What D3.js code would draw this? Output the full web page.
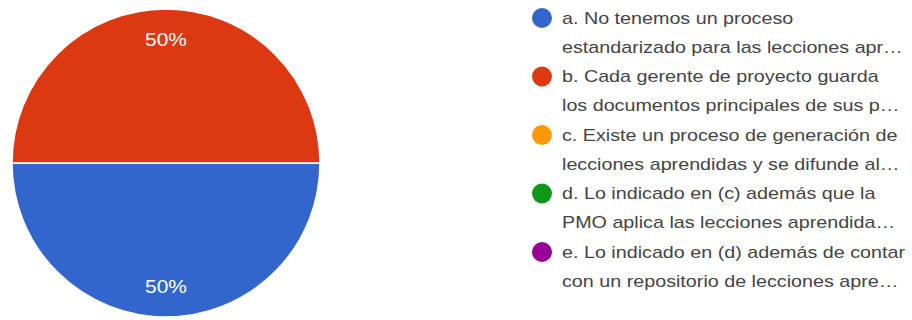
<!DOCTYPE html>
<html>
<head>
<meta charset="utf-8">
<script src="https://cdn.jsdelivr.net/npm/d3@7"></script>
<style>
  body { margin: 0; background: #fff; }
  svg { display: block; }
</style>
</head>
<body>
<div id="chart"></div>
<script>
// Chart data
const categories = ["a", "b", "c", "d", "e"];
const values = [1, 1, 0, 0, 0];
const legendLines = [
    ["a. No tenemos un proceso", "estandarizado para las lecciones apr\u2026"],
    ["b. Cada gerente de proyecto guarda", "los documentos principales de sus p\u2026"],
    ["c. Existe un proceso de generación de", "lecciones aprendidas y se difunde al\u2026"],
    ["d. Lo indicado en (c) además que la", "PMO aplica las lecciones aprendida\u2026"],
    ["e. Lo indicado en (d) además de contar", "con un repositorio de lecciones apre\u2026"]
];
const colors = ["#3366cc", "#dc3912", "#ff9900", "#109618", "#990099"];

const width = 912, height = 320;
const cx = 166, cy = 163, radius = 154;
const stretch = 1.16; // reference text is wider than the installed Arial metric

const svg = d3.select("#chart")
    .append("svg")
    .attr("width", width)
    .attr("height", height);

const color = d3.scaleOrdinal()
    .domain(categories)
    .range(colors);

const data = categories.map((c, i) => ({cat: c, value: values[i]}));

const pie = d3.pie()
    .sort(null)
    .value(d => d.value)
    .startAngle(Math.PI / 2)
    .endAngle(Math.PI / 2 + 2 * Math.PI);

const arcs = pie(data).filter(d => d.data.value > 0);
const total = d3.sum(values);

const arc = d3.arc().innerRadius(0).outerRadius(radius);
const labelArc = d3.arc().innerRadius(radius * 0.8).outerRadius(radius * 0.8);

const g = svg.append("g")
    .attr("transform", `translate(${cx},${cy})`);

g.selectAll("path")
    .data(arcs)
    .join("path")
    .attr("d", arc)
    .attr("fill", d => color(d.data.cat))
    .attr("stroke", "#fff")
    .attr("stroke-width", 1.5);

g.selectAll("text")
    .data(arcs)
    .join("text")
    .attr("transform", d => `translate(${labelArc.centroid(d)}) scale(${stretch},1)`)
    .attr("text-anchor", "middle")
    .attr("dy", "0.35em")
    .attr("font-family", "Arial, 'Liberation Sans', sans-serif")
    .attr("font-size", "18px")
    .attr("fill", "#fff")
    .text(d => d3.format(".0%")(d.data.value / total));

// Legend
const legendY = d3.scalePoint()
    .domain(categories)
    .range([18, 252]);

const legend = svg.append("g")
    .selectAll("g")
    .data(categories)
    .join("g")
    .attr("transform", d => `translate(542,${legendY(d)})`);

legend.append("circle")
    .attr("r", 10)
    .attr("fill", d => color(d));

legend.each(function(d, i) {
    const t = d3.select(this).append("text")
        .attr("transform", `translate(20,0) scale(${stretch},1)`)
        .attr("font-family", "Arial, 'Liberation Sans', sans-serif")
        .attr("font-size", "17px")
        .attr("fill", "#444");
    legendLines[i].forEach((line, j) => {
        t.append("tspan")
            .attr("x", 0)
            .attr("y", j * 29)
            .attr("dy", "0.35em")
            .text(line);
    });
});
</script>
</body>
</html>
